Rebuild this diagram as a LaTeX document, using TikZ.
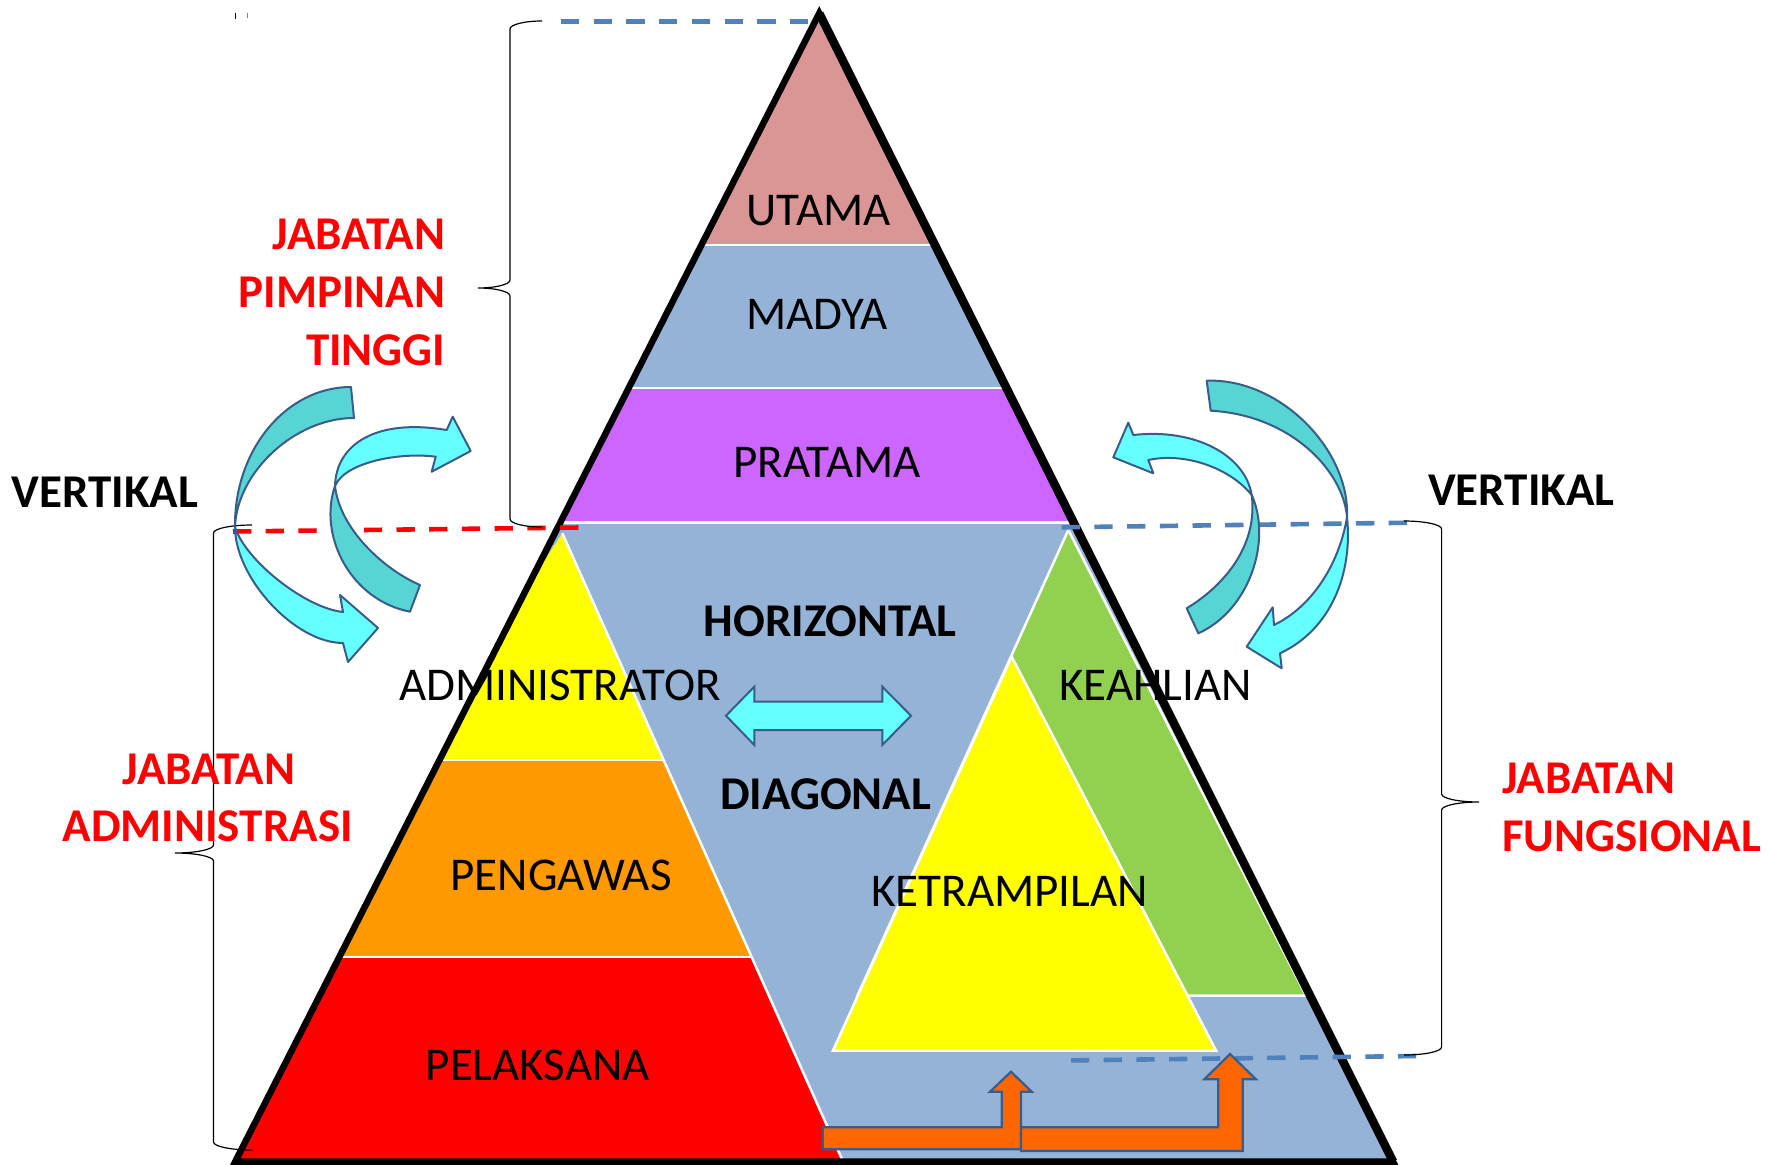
\documentclass[tikz,border=0pt]{standalone}
\usepackage{fontspec}
\setmainfont{Carlito}

\definecolor{pinkband}{HTML}{D99694}
\definecolor{blueband}{HTML}{95B3D7}
\definecolor{purpleband}{HTML}{CC66FF}
\definecolor{yellowband}{HTML}{FFFF00}
\definecolor{orangeband}{HTML}{FF9900}
\definecolor{redband}{HTML}{FF0000}
\definecolor{greenband}{HTML}{92D050}
\definecolor{orangearrow}{HTML}{FF6600}
\definecolor{cyanlight}{HTML}{66FFFF}
\definecolor{cyandark}{HTML}{57D4D4}
\definecolor{arrowedge}{HTML}{385D8A}
\definecolor{dashblue}{HTML}{4F81BD}
\definecolor{titlered}{HTML}{FF0000}

% curly brace: #1 spine x, #2 tip x, #3 hook x, #4 top y, #5 tip y, #6 bottom y
\newcommand{\drawcurlybrace}[6]{%
  \draw[bracestyle] (#3,#4) .. controls ({#3-0.55*(#3-#1)},#4) and (#1,{#4+3.6}) .. (#1,{#4+8})
    -- (#1,{#5-8}) .. controls (#1,{#5-3.6}) and ({#2+0.55*(#1-#2)},#5) .. (#2,#5)
    .. controls ({#2+0.55*(#1-#2)},#5) and (#1,{#5+3.6}) .. (#1,{#5+8})
    -- (#1,{#6-8}) .. controls (#1,{#6-3.6}) and ({#3-0.55*(#3-#1)},#6) .. (#3,#6);}

\begin{document}
\begin{tikzpicture}[x=1pt,y=-1pt,
  lbl/.style={inner sep=0pt, anchor=base, font=\fontsize{47}{57}\selectfont},
  boldlbl/.style={lbl, font=\fontsize{47}{57}\selectfont\bfseries},
  redlbl/.style={boldlbl, text=titlered},
  sep/.style={white, line width=2.5pt},
  dashline/.style={line width=4.6pt, dash pattern=on 18.3pt off 14.4pt},
  bracestyle/.style={black, line width=1.2pt},
  ribbon/.style={draw=arrowedge, line width=2pt, line join=round},
  blockarrow/.style={draw=arrowedge, line width=2.2pt, line join=miter, fill=orangearrow}]

\useasboundingbox (0,0) rectangle (1784,1164);
\fill[white] (0,0) rectangle (1784,1164);

\coordinate (apex) at (819.2,13.4);
\coordinate (bl) at (235.3,1161.5);
\coordinate (br) at (1393,1161.5);

% ---- bands of the big pyramid ----
\begin{scope}
  \clip (apex) -- (br) -- (bl) -- cycle;
  \fill[pinkband] (0,0) rectangle (1784,245);
  \fill[blueband] (0,245) rectangle (1784,388);
  \fill[purpleband] (0,388) rectangle (1784,522);
  \fill[blueband] (0,522) rectangle (1784,1164);
  \draw[sep] (0,245) -- (1784,245) (0,388) -- (1784,388) (0,522.6) -- (1784,522.6);

  % administration pyramid
  \begin{scope}
    \clip (562.3,533.3) -- (843,1161.5) -- (150,1161.5) -- cycle;
    \fill[yellowband] (0,520) rectangle (1784,760);
    \fill[orangeband] (0,760) rectangle (1784,957);
    \fill[redband] (0,957) rectangle (1784,1164);
    \draw[sep] (0,760) -- (1784,760) (0,957) -- (1784,957);
  \end{scope}
  \draw[sep] (562.3,533.3) -- (843,1161.5);

  % functional triangles
  \fill[greenband] (1068.3,530) -- (857.4,995.6) -- (1306,995.6) -- cycle;
  \draw[sep, line join=miter] (1068.3,530) -- (857.4,995.6) -- (1306,995.6) -- cycle;
  \fill[yellowband] (1011.7,656.7) -- (833,1050.5) -- (1216,1050.5) -- cycle;
  \draw[sep, line join=miter] (1011.7,656.7) -- (833,1050.5) -- (1216,1050.5) -- cycle;
\end{scope}

% outline of the big pyramid (right side drawn heavier)
\draw[black, line width=6.5pt, line join=miter] (apex) -- (br) -- (bl) -- cycle;
\draw[black, line width=8.5pt] (apex) -- (br);

% ---- dashed level lines ----
\coordinate (dtopL) at (561,21.6);
\coordinate (dtopR) at (815.5,21.6);
\draw[dashline, dashblue] (dtopL) -- (dtopR);
\coordinate (dredL) at (233,531.5);
\coordinate (dredR) at (580,527.5);
\draw[dashline, red] (dredL) -- (dredR);
\coordinate (dupL) at (1061.7,527.3);
\coordinate (dupR) at (1410,522.7);
\draw[dashline, dashblue] (dupL) -- (dupR);
\coordinate (dlowL) at (1071,1060.4);
\coordinate (dlowR) at (1416,1056);
\draw[dashline, dashblue] (dlowL) -- (dlowR);

% ---- braces ----
\drawcurlybrace{510}{478}{542}{21}{288}{527}
\drawcurlybrace{213.5}{175}{252}{525}{853}{1150}
\drawcurlybrace{1441.6}{1479}{1404}{521}{802}{1055}

% ---- curved arrows, left ----
\fill[cyandark, ribbon] (351,387) .. controls (286,387) and (234,450) .. (235,527)
  .. controls (237,472) and (295,418) .. (354,418) -- cycle;
\fill[cyanlight, ribbon] (235,527) .. controls (235,578) and (295,643) .. (343,643)
  -- (348,662) -- (378,628) -- (340,595) -- (343,612)
  .. controls (305,608) and (245,560) .. (235,527) -- cycle;

\fill[cyanlight, ribbon] (335,486) .. controls (336,445) and (375,418) .. (446.7,430)
  -- (452.7,416.7) -- (470.7,451) -- (431.7,471.7) -- (435.7,456.7)
  .. controls (400,452) and (345,462) .. (335,486) -- cycle;
\fill[cyandark, ribbon] (335,486) .. controls (318,535) and (350,600) .. (410,611.7)
  -- (420,585) .. controls (385,570) and (340,530) .. (335,486) -- cycle;

% ---- curved arrows, right ----
\fill[cyandark, ribbon] (1206.7,380.7) .. controls (1280,378) and (1350,450) .. (1347,517)
  .. controls (1343,470) and (1290,415) .. (1210.7,410.7) -- cycle;
\fill[cyanlight, ribbon] (1347,517) .. controls (1353,575) and (1330,630) .. (1280,653.3)
  -- (1281.7,668.3) -- (1246.7,646.7) -- (1272.7,607.3) -- (1274,625)
  .. controls (1315,605) and (1340,560) .. (1347,517) -- cycle;

\fill[cyanlight, ribbon] (1251.7,495) .. controls (1245,455) and (1195,428) .. (1133.3,435)
  -- (1128.3,422.7) -- (1113.3,457.3) -- (1153.3,473.3) -- (1148.3,460)
  .. controls (1185,452) and (1230,468) .. (1251.7,495) -- cycle;
\fill[cyandark, ribbon] (1251.7,495) .. controls (1272,540) and (1250,610) .. (1198.3,633.3)
  -- (1186.7,608.3) .. controls (1225,585) and (1258,545) .. (1251.7,495) -- cycle;

% ---- horizontal double arrow ----
\fill[cyanlight, ribbon, line join=miter] (726,715.7) -- (754.3,686.7) -- (754.3,701.7) -- (882.3,701.7)
  -- (882.3,686.7) -- (911,715.7) -- (882.3,745) -- (882.3,730) -- (754.3,730)
  -- (754.3,745) -- cycle;

% ---- bent-up arrows at the base ----
\filldraw[blockarrow] (822.7,1127.3) -- (1001.7,1127.3) -- (1001.7,1091.7) -- (990,1091.7)
  -- (1011,1071.7) -- (1031.7,1091.7) -- (1021,1091.7) -- (1021,1149.3)
  -- (822.7,1149.3) -- cycle;
\filldraw[blockarrow] (1021,1127.3) -- (1218.3,1127.3) -- (1218.3,1079.3) -- (1204.3,1079.3)
  -- (1230,1054) -- (1256,1079.3) -- (1242.7,1079.3) -- (1242.7,1151)
  -- (1021,1151) -- cycle;

% small marks in the corner
\draw[black, line width=1pt] (235.7,12.7) -- (235.7,19.3);
\draw[gray, line width=0.8pt] (247,13.3) -- (247,18.3);

% ---- labels ----
\node[lbl] (utama) at (818.7,225) {UTAMA};
\node[lbl] (madya) at (817,329) {MADYA};
\node[lbl] (pratama) at (827,477) {PRATAMA};
\node[boldlbl] (horiz) at (830,636) {HORIZONTAL};
\node[boldlbl] (diag) at (825.6,809) {DIAGONAL};
\node[lbl] (admin) at (560,700) {ADMINISTRATOR};
\node[lbl] (pengawas) at (561,890) {PENGAWAS};
\node[lbl] (pelaksana) at (537.8,1080.7) {PELAKSANA};
\node[lbl] (keahlian) at (1155.5,700) {KEAHLIAN};
\node[lbl] (ketrampilan) at (1009.5,906) {KETRAMPILAN};

\node[boldlbl, anchor=base west] (vertL) at (11.4,507.5) {VERTIKAL};
\node[boldlbl, anchor=base west] (vertR) at (1428,505) {VERTIKAL};

\node[redlbl, anchor=base east] (jpt1) at (445.5,249) {JABATAN};
\node[redlbl, anchor=base east] (jpt2) at (445.5,307) {PIMPINAN};
\node[redlbl, anchor=base east] (jpt3) at (445.5,365) {TINGGI};

\node[redlbl] (ja1) at (208.8,784) {JABATAN};
\node[redlbl] (ja2) at (207.7,841) {ADMINISTRASI};

\node[redlbl, anchor=base west] (jf1) at (1502,793) {JABATAN};
\node[redlbl, anchor=base west] (jf2) at (1502,851) {FUNGSIONAL};

\end{tikzpicture}
\end{document}
